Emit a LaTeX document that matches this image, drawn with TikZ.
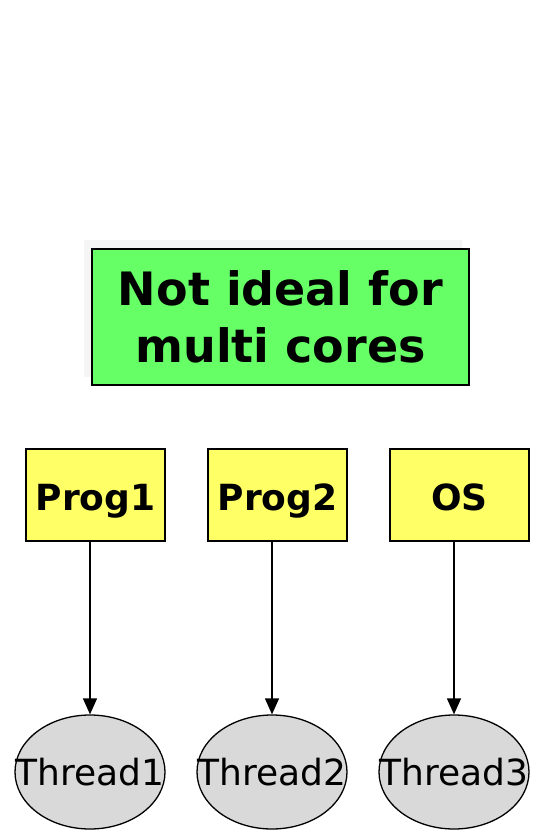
\documentclass[tikz,border=0pt]{standalone}
\usepackage{fontspec}
\setmainfont{DejaVu Sans}
\usetikzlibrary{shapes.geometric,arrows.meta}
\definecolor{boxgreen}{HTML}{66FF66}
\definecolor{boxyellow}{HTML}{FFFF66}
\definecolor{threadgray}{HTML}{D9D9D9}
\begin{document}
\begin{tikzpicture}[x=1pt,y=-1pt,
  note/.style={draw=black,line width=1.3pt,fill=boxgreen,minimum width=377pt,minimum height=136pt,
    align=center,inner sep=0pt,font=\fontsize{46}{57}\selectfont\bfseries},
  prog/.style={draw=black,line width=1.3pt,fill=boxyellow,minimum width=139pt,minimum height=92pt,
    inner sep=0pt},
  progtext/.style={anchor=base,inner sep=0pt,font=\fontsize{36}{40}\selectfont\bfseries},
  thread/.style={ellipse,draw=black,line width=1.3pt,fill=threadgray,minimum width=150pt,minimum height=114pt,
    inner sep=0pt},
  threadtext/.style={anchor=base,inner sep=0pt,font=\fontsize{36}{40}\selectfont},
  link/.style={line width=1.3pt,-{Triangle[length=16pt,width=14pt]}}]
\useasboundingbox (0,0) rectangle (537,830);
% faint backdrop behind the note
\fill[gray!8] (84,240) rectangle (462,377);
\node[note] (note) at (280.5,317) {Not ideal for\\multi cores};
% program boxes, labels share one baseline
\node[prog] (p1) at (95.5,495) {};
\node[prog] (p2) at (277.5,495) {};
\node[prog] (p3) at (459.5,495) {};
\node[progtext] (pl1) at ([yshift=-15.5pt]p1.center) {Prog1};
\node[progtext] (pl2) at ([yshift=-15.5pt]p2.center) {Prog2};
\node[progtext] (pl3) at ([yshift=-15.5pt]p3.center) {OS};
% threads
\node[thread] (t1) at (90,772) {};
\node[thread] (t2) at (272,772) {};
\node[thread] (t3) at (454,772) {};
\node[threadtext] (l1) at ([yshift=-13pt]t1.center) {Thread1};
\node[threadtext] (l2) at ([yshift=-13pt]t2.center) {Thread2};
\node[threadtext] (l3) at ([yshift=-13pt]t3.center) {Thread3};
\draw[link] (p1.south -| t1.north) -- (t1.north);
\draw[link] (p2.south -| t2.north) -- (t2.north);
\draw[link] (p3.south -| t3.north) -- (t3.north);
\end{tikzpicture}
\end{document}
